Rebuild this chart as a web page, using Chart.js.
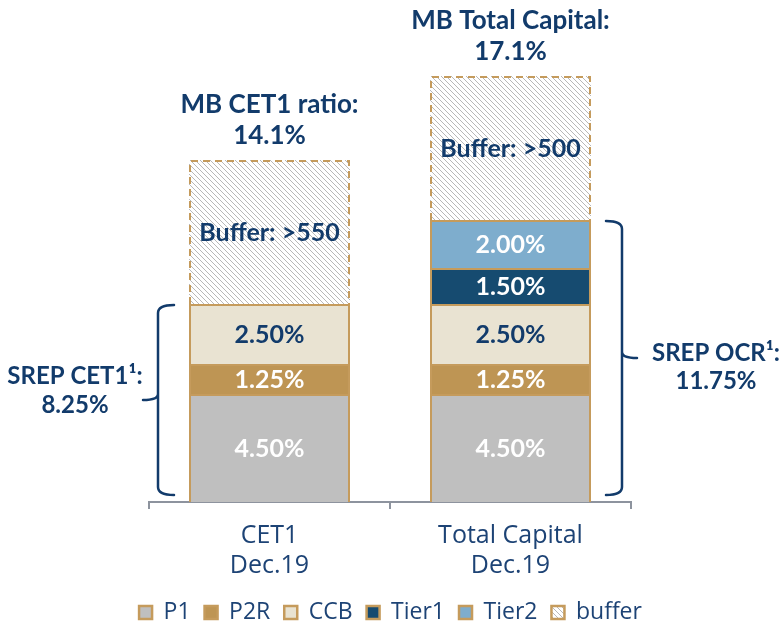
<!DOCTYPE html>
<html><head><meta charset="utf-8">
<script src="https://cdn.jsdelivr.net/npm/chart.js@4.4.1/dist/chart.umd.min.js"></script>
<style>html,body{margin:0;padding:0;background:#fff}#wrap{width:781px;height:623px;position:relative}</style>
</head><body><div id="wrap"><canvas id="c"></canvas></div>
<script>
// ---- data ----
const categories = [['CET1', 'Dec.19'], ['Total Capital', 'Dec.19']];
const seriesNames = ['P1', 'P2R', 'CCB', 'Tier1', 'Tier2', 'buffer'];
const p1 = [4.5, 4.5];
const p2r = [1.25, 1.25];
const ccb = [2.5, 2.5];
const tier1 = [null, 1.5];
const tier2 = [null, 2.0];
const buffer = [6.0, 6.0];
const bufferLabels = ['Buffer: >550', 'Buffer: >500'];
const totalTitles = [['MB CET1 ratio:', '14.1%'], ['MB Total Capital:', '17.1%']];
const srepTexts = [['SREP CET1\u00B9:', '8.25%'], ['SREP OCR\u00B9:', '11.75%']];

// ---- styles ----
const NAVY = '#123b6b';
const TAN = '#c59b5c';
const AXIS = '#8d939e';
const fillColors = ['#bfbfbf', '#be9554', '#e9e3d2', '#164b70', '#7eadcd'];
const labelColors = ['#ffffff', '#ffffff', NAVY, '#ffffff', '#ffffff', NAVY];

function hatch() {
  const c = document.createElement('canvas'); c.width = c.height = 5;
  const x = c.getContext('2d');
  x.fillStyle = '#ffffff'; x.fillRect(0, 0, 5, 5);
  x.strokeStyle = '#b8b8b8'; x.lineWidth = 1;
  x.beginPath();
  x.moveTo(0, 0); x.lineTo(5, 5);
  x.moveTo(-1, 4); x.lineTo(1, 6);
  x.moveTo(4, -1); x.lineTo(6, 1);
  x.stroke();
  return x.createPattern(c, 'repeat');
}
const hatchPattern = hatch();

const seriesData = [p1, p2r, ccb, tier1, tier2, buffer];
const datasets = seriesData.map((d, i) => ({
  label: seriesNames[i],
  data: d,
  backgroundColor: i === 5 ? hatchPattern : fillColors[i],
  borderColor: TAN,
  borderWidth: i === 5 ? 0 : 2,
  borderSkipped: 'start',
  yAxisID: 'y'
}));

const LEGEND_H = 36;
const legendFitPlugin = {
  id: 'legendFit',
  beforeLayout(chart) {
    const lg = chart.legend;
    if (lg && !lg._fitWrapped) {
      const orig = lg.fit;
      lg.fit = function () { orig.call(this); this.height = LEGEND_H; };
      lg._fitWrapped = true;
    }
  }
};

const annotPlugin = {
  id: 'annot',
  afterDatasetsDraw(chart) {
    const ctx = chart.ctx;
    const y = chart.scales.y;
    // dashed border for buffer
    const bufMeta = chart.getDatasetMeta(5);
    ctx.save();
    ctx.strokeStyle = TAN; ctx.lineWidth = 2; ctx.setLineDash([7, 5]);
    bufMeta.data.forEach(el => {
      const l = el.x - el.width / 2 + 1, r = el.x + el.width / 2 - 1;
      const t = el.y + 1, b = el.base;
      ctx.beginPath();
      ctx.moveTo(l, b); ctx.lineTo(l, t); ctx.lineTo(r, t); ctx.lineTo(r, b);
      ctx.stroke();
    });
    ctx.restore();

    // data labels
    ctx.save();
    ctx.textAlign = 'center'; ctx.textBaseline = 'middle';
    chart.data.datasets.forEach((ds, i) => {
      const meta = chart.getDatasetMeta(i);
      meta.data.forEach((el, j) => {
        const v = ds.data[j];
        if (v == null) return;
        const txt = i === 5 ? bufferLabels[j] : v.toFixed(2) + '%';
        ctx.fillStyle = labelColors[i];
        ctx.font = 'bold 25px Lato';
        ctx.fillText(txt, el.x, (el.y + el.base) / 2 + 1);
      });
    });
    // titles above bars
    ctx.fillStyle = NAVY;
    ctx.font = 'bold 26px Lato';
    bufMeta.data.forEach((el, j) => {
      ctx.fillText(totalTitles[j][0], el.x, el.y - 55);
      ctx.fillText(totalTitles[j][1], el.x, el.y - 24);
    });
    ctx.restore();

    // braces
    const m0 = chart.getDatasetMeta(0).data;
    const srepTop = [0, 1].map(j => [0, 1, 2, 3, 4].reduce((s, k) => s + (seriesData[k][j] || 0), 0));
    ctx.save();
    ctx.strokeStyle = NAVY; ctx.lineWidth = 2.5; ctx.lineCap = 'round';
    [0, 1].forEach(j => {
      const el = m0[j];
      const dir = j === 0 ? -1 : 1;
      const edge = j === 0 ? el.x - el.width / 2 : el.x + el.width / 2;
      const hx = edge + dir * 15, vx = edge + dir * 31, px = edge + dir * 46;
      const top = y.getPixelForValue(srepTop[j]) + 1;
      const bot = y.getPixelForValue(0) - 7;
      const mid = (top + bot) / 2;
      ctx.beginPath();
      ctx.moveTo(hx, top);
      ctx.quadraticCurveTo(vx, top, vx, top + 8);
      ctx.lineTo(vx, mid - 6);
      ctx.quadraticCurveTo(vx, mid, px, mid);
      ctx.moveTo(vx, mid - 6);
      ctx.quadraticCurveTo(vx, mid, vx, mid + 6);
      ctx.lineTo(vx, bot - 8);
      ctx.quadraticCurveTo(vx, bot, hx, bot);
      ctx.stroke();
      ctx.fillStyle = NAVY;
      ctx.font = 'bold 24px Lato';
      ctx.textAlign = 'center'; ctx.textBaseline = 'middle';
      const tx = j === 0 ? 75 : 716;
      const o1 = j === 0 ? -24 : -5, o2 = j === 0 ? 5 : 23;
      ctx.fillText(srepTexts[j][0], tx, mid + o1);
      ctx.fillText(srepTexts[j][1], tx, mid + o2);
    });
    ctx.restore();
  }
};

const hiddenAxis = (w, pos) => ({
  position: pos,
  display: true,
  grid: { display: false, drawTicks: false },
  border: { display: false },
  ticks: { display: false },
  afterFit(scale) { scale.width = w; }
});

new Chart(document.getElementById('c'), {
  type: 'bar',
  data: { labels: categories, datasets },
  options: {
    responsive: true,
    maintainAspectRatio: false,
    animation: false,
    layout: { padding: { left: 0, right: 0, top: 22, bottom: 0 } },
    datasets: { bar: { categoryPercentage: 1.0, barPercentage: 0.668 } },
    scales: {
      x: {
        stacked: true,
        grid: { offset: true, drawOnChartArea: false, drawTicks: true, tickLength: 7, color: AXIS, lineWidth: 2 },
        border: { display: true, color: AXIS, width: 2 },
        ticks: { color: '#1d4375', font: { family: 'Open Sans', size: 25, lineHeight: 1.2 }, padding: 12, maxRotation: 0, autoSkip: false },
        afterFit(scale) { scale.height = 623 - 502 - LEGEND_H; }
      },
      y: Object.assign(hiddenAxis(149, 'left'), { stacked: true, min: 0, max: 20 }),
      yR: Object.assign(hiddenAxis(150, 'right'), { min: 0, max: 20 })
    },
    plugins: {
      legend: {
        position: 'bottom',
        labels: {
          color: '#1d4375',
          font: { family: 'Open Sans', size: 23 },
          boxWidth: 13, boxHeight: 13, padding: 14,
          generateLabels(chart) {
            return chart.data.datasets.map((ds, i) => ({
              text: ds.label,
              fillStyle: ds.backgroundColor,
              strokeStyle: TAN,
              lineWidth: 2.5,
              hidden: false,
              datasetIndex: i,
              fontColor: '#1d4375'
            }));
          }
        }
      },
      tooltip: { enabled: false }
    }
  },
  plugins: [legendFitPlugin, annotPlugin]
});
</script>
</body></html>
